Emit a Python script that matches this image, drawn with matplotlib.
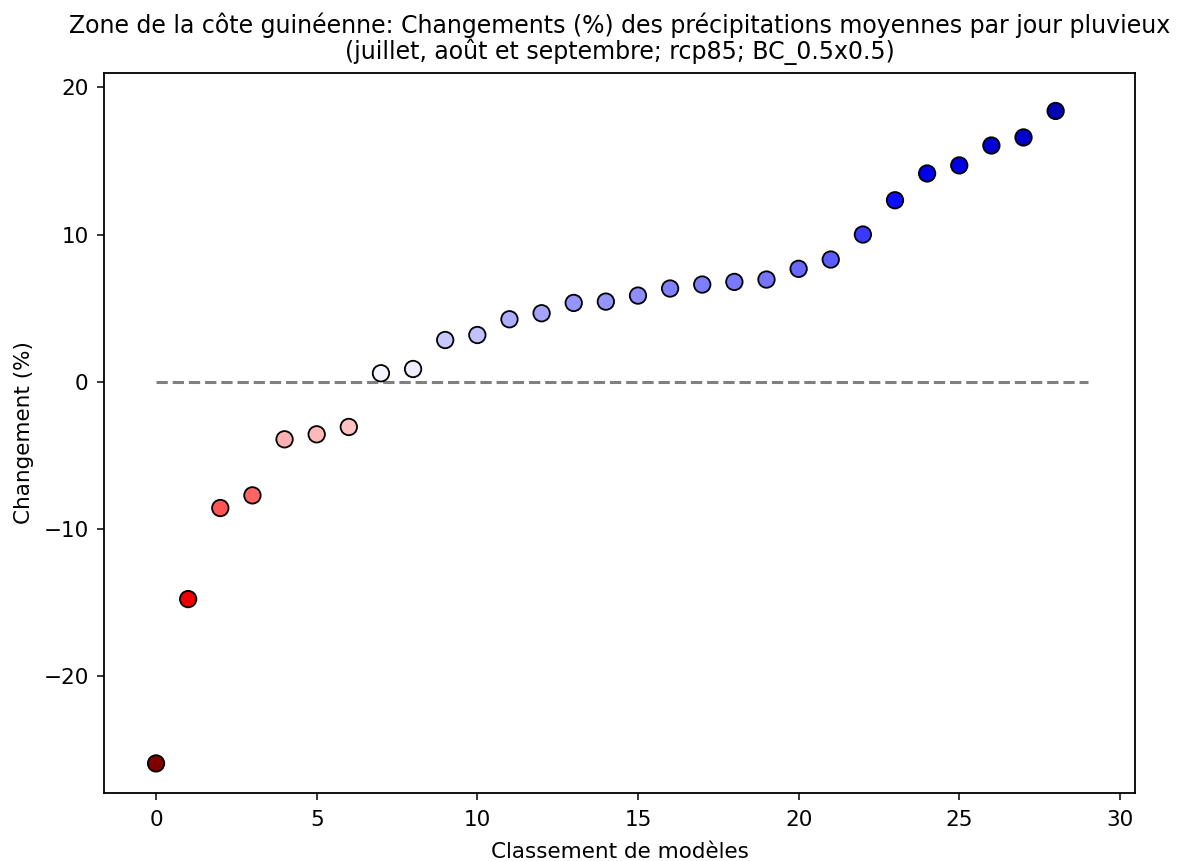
import numpy as np
import matplotlib
matplotlib.use("Agg")
import matplotlib.pyplot as plt

# Changes (%) per model, sorted
rank = list(range(29))
change = [-25.95, -14.78, -8.59, -7.73, -3.92, -3.58, -3.08, 0.57, 0.86,
          2.83, 3.17, 4.24, 4.65, 5.35, 5.44, 5.85, 6.33, 6.60, 6.78, 6.94,
          7.67, 8.30, 10.0, 12.33, 14.15, 14.70, 16.05, 16.60, 18.40]

title = ("Zone de la côte guinéenne: Changements (%) des précipitations moyennes par jour pluvieux\n"
         "(juillet, août et septembre; rcp85; BC_0.5x0.5)")

vmax = np.max(np.abs(change))

fig = plt.figure(figsize=(11.8, 8.61), dpi=100)
ax = fig.add_axes([104 / 1180, 1 - 793 / 861, (1135 - 104) / 1180, (793 - 72.7) / 861])

ax.plot([0, len(change)], [0, 0], color="gray", linestyle="--", linewidth=2.2, zorder=1)
ax.scatter(rank, change, c=change, cmap="seismic_r", vmin=-vmax, vmax=vmax,
           s=140, edgecolors="black", linewidths=1.3, zorder=2)

ax.set_xlim(-1.62, 30.47)
ax.set_ylim(-27.96, 21.0)
ax.set_xticks([0, 5, 10, 15, 20, 25, 30])
ax.set_yticks([-20, -10, 0, 10, 20])
for s in ax.spines.values():
    s.set_linewidth(1.3)
ax.tick_params(labelsize=15.5, length=5, width=1.1)
ax.tick_params(axis="x", pad=7)
ax.tick_params(axis="y", pad=6)
ax.set_xlabel("Classement de modèles", fontsize=15.5, labelpad=9)
ax.set_ylabel("Changement (%)", fontsize=15.5, labelpad=7)
ax.set_title(title, fontsize=17, linespacing=1.0, pad=10)

fig.savefig("out.png", dpi=100)
